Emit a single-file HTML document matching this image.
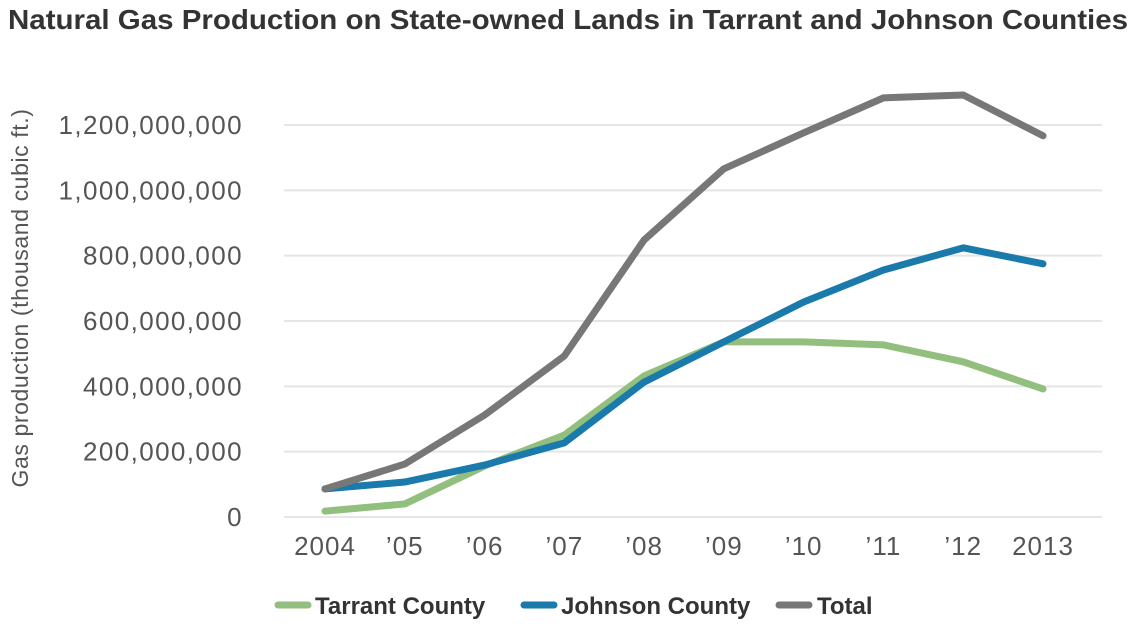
<!DOCTYPE html>
<html><head><meta charset="utf-8"><style>
body{margin:0;background:#fff;width:1138px;height:628px;overflow:hidden;font-family:"Liberation Sans",sans-serif}
</style></head><body>
<svg width="1138" height="628">
<text x="8" y="29" font-size="28" font-weight="bold" fill="#333" textLength="1120" lengthAdjust="spacingAndGlyphs">Natural Gas Production on State-owned Lands in Tarrant and Johnson Counties</text>
<text transform="translate(28,298) rotate(-90)" text-anchor="middle" font-size="23" letter-spacing="0.6" fill="#555">Gas production (thousand cubic ft.)</text>
<g id="grid"></g><g id="ylab"></g><g id="xlab"></g><g id="lines"></g>
<g>
<line x1="278" y1="605" x2="308" y2="605" stroke="#93bf7e" stroke-width="7" stroke-linecap="round"/>
<text x="315" y="614" font-size="24" font-weight="bold" fill="#333">Tarrant County</text>
<line x1="524" y1="605" x2="554" y2="605" stroke="#1a7aab" stroke-width="7" stroke-linecap="round"/>
<text x="561" y="614" font-size="24" font-weight="bold" fill="#333">Johnson County</text>
<line x1="779" y1="605" x2="809" y2="605" stroke="#777" stroke-width="7" stroke-linecap="round"/>
<text x="817" y="614" font-size="24" font-weight="bold" fill="#333">Total</text>
</g>
</svg>
<script>
const categories=["2004","’05","’06","’07","’08","’09","’10","’11","’12","2013"];
const tarrant=[18,40,156,251,432,536,536,527,475,392];
const johnson=[86,107,159,227,413,536,658,756,824,775];
const total=[86,162,312,493,848,1066,1176,1283,1292,1167];
const yTicks=[0,200,400,600,800,1000,1200];
const yTickLabels=["0","200,000,000","400,000,000","600,000,000","800,000,000","1,000,000,000","1,200,000,000"];
const NS="http://www.w3.org/2000/svg";
function y(v){return 517-(v/1200)*(517-125);}
function x(i){return 325+i*(1043-325)/9;}
function mk(t,a,p){const e=document.createElementNS(NS,t);for(const k in a)e.setAttribute(k,a[k]);document.getElementById(p).appendChild(e);return e;}
yTicks.forEach((v,i)=>{
 const g=mk("line",{x1:284,x2:1102,y1:y(v),y2:y(v),stroke:"#e5e5e5","stroke-width":2},"grid");
 
 
 const t=mk("text",{x:243,y:y(v)+9,"text-anchor":"end","font-size":26,"letter-spacing":1.4,fill:"#555"},"ylab");
 t.textContent=yTickLabels[i];
 
 
});
categories.forEach((c,i)=>{
 const t=mk("text",{x:x(i),y:555,"text-anchor":"middle","font-size":26,"letter-spacing":1,fill:"#555"},"xlab");
 t.textContent=c;
 
 
});
[[tarrant,"#93bf7e","tarrant-line"],[johnson,"#1a7aab","johnson-line"],[total,"#777","total-line"]].forEach(([d,col,n])=>{
 const p=mk("polyline",{points:d.map((v,i)=>x(i)+","+y(v)).join(" "),fill:"none",stroke:col,"stroke-width":7,"stroke-linecap":"round","stroke-linejoin":"round"},"lines");
 
 
});
</script>
</body></html>
